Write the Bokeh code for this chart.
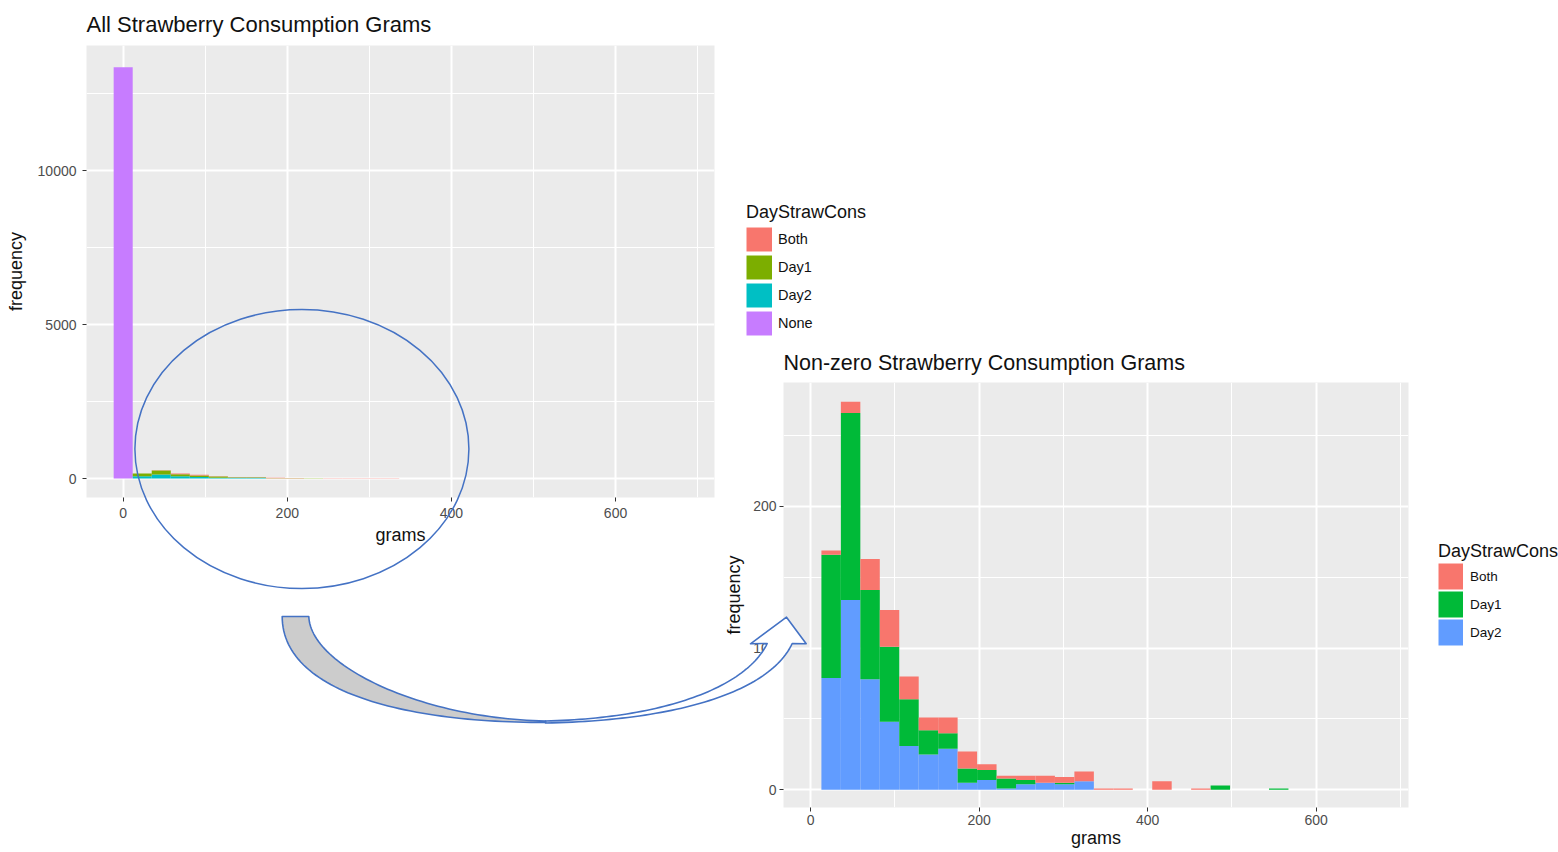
import numpy as np
from bokeh.plotting import figure
from bokeh.models import Range1d, FixedTicker, Legend, LegendItem, ColumnDataSource
from bokeh.embed import file_html
from bokeh.resources import INLINE

FONT = "Liberation Sans"

# ---------------- data ----------------
# Non-zero consumption histogram (right chart): 23.1 g bins starting at 12.7 g
nz_bin_start = 12.7
nz_bin_width = 23.1
nz_both = [3, 8, 22, 26, 16, 9, 11, 12, 4, 2, 3, 5, 4, 7, 1, 1, 0, 6, 0, 1, 0, 0, 0, 0]
nz_day1 = [87, 132, 63, 53, 33, 17, 11, 10, 7, 7, 3, 0, 1, 0, 0, 0, 0, 0, 0, 0, 3, 0, 0, 1]
nz_day2 = [79, 134, 78, 48, 31, 25, 29, 5, 7, 1, 4, 5, 4, 6, 0, 0, 0, 0, 0, 0, 0, 0, 0, 0]

# All consumption histogram (left chart): 23.2 g bins centred on 0, 23.2, 46.4, ...
all_bin_width = 23.2
all_none = [13360, 0, 0, 0, 0, 0, 0, 0, 0, 0, 0, 0, 0, 0, 0, 0, 0, 0, 0, 0, 0, 0, 0, 0, 0]
all_both = [0, 3, 8, 22, 26, 16, 9, 11, 12, 4, 2, 3, 5, 4, 7, 1, 1, 0, 6, 0, 1, 0, 0, 0, 0]
all_day1 = [0, 87, 132, 63, 53, 33, 17, 11, 10, 7, 7, 3, 0, 1, 0, 0, 0, 0, 0, 0, 0, 3, 0, 0, 1]
all_day2 = [0, 79, 134, 78, 48, 31, 25, 29, 5, 7, 1, 4, 5, 4, 6, 0, 0, 0, 0, 0, 0, 0, 0, 0, 0]

legend_title = "DayStrawCons"
groups_all = ["Both", "Day1", "Day2", "None"]
groups_nz = ["Both", "Day1", "Day2"]
colors_all = {"Both": "#F8766D", "Day1": "#7CAE00", "Day2": "#00BFC4", "None": "#C77CFF"}
colors_nz = {"Both": "#F8766D", "Day1": "#00BA38", "Day2": "#619CFF"}

x_ticks = [0, 200, 400, 600]
x_minor = [100, 300, 500, 700]
all_y_ticks = [0, 5000, 10000]
all_y_minor = [2500, 7500, 12500]
nz_y_ticks = [0, 100, 200]
nz_y_minor = [50, 150, 250]

# decorative call-out shapes (page pixel coordinates)
ellipse_center = (301.4, 448.5)
ellipse_size = (334, 279)
arrow_outer_left = [(281.7, 616), (281.7, 690), (400, 722), (545, 722)]
arrow_inner_left = [(308.3, 616), (310, 665), (420, 718), (545, 720.5)]
arrow_lower_right = [(545, 722.5), (680, 720), (770, 690), (791.7, 643)]
arrow_upper_right = [(545, 720.5), (660, 718), (745, 688), (766.7, 643)]
arrow_head = [(805.7, 643.3), (786, 616.7), (750, 643.3)]


def place(fig, x, y):
    fig.styles = {"position": "absolute", "left": f"{x}px", "top": f"{y}px"}


def style_chart(p, yt, ym, xstand, xlab_stand, ystand, ylab_stand, title_stand):
    p.background_fill_color = "#EBEBEB"
    p.border_fill_alpha = 0
    p.outline_line_color = None
    xt = FixedTicker(ticks=x_ticks, minor_ticks=x_minor)
    ytk = FixedTicker(ticks=yt, minor_ticks=ym)
    p.xaxis.ticker = xt
    p.yaxis.ticker = ytk
    p.xgrid.ticker = xt
    p.ygrid.ticker = ytk
    for ax in p.axis:
        ax.axis_line_color = None
        ax.major_tick_line_color = "#333333"
        ax.major_tick_line_width = 1
        ax.major_tick_in = 0
        ax.major_tick_out = 4
        ax.minor_tick_line_color = None
        ax.major_label_text_font = FONT
        ax.major_label_text_font_size = "14px"
        ax.major_label_text_color = "#4D4D4D"
        ax.axis_label_text_font = FONT
        ax.axis_label_text_font_size = "18px"
        ax.axis_label_text_font_style = "normal"
        ax.axis_label_text_color = "#111111"
    p.xaxis.major_label_standoff = xstand
    p.xaxis.axis_label_standoff = xlab_stand
    p.yaxis.major_label_standoff = ystand
    p.yaxis.axis_label_standoff = ylab_stand
    p.grid.grid_line_color = "white"
    p.grid.grid_line_width = 2
    p.grid.minor_grid_line_color = "white"
    p.grid.minor_grid_line_width = 1
    p.title.text_font = FONT
    p.title.text_font_style = "normal"
    p.title.text_color = "#111111"
    p.title.standoff = title_stand


def blank_figure(w, h):
    f = figure(width=w, height=h, x_range=Range1d(0, 1), y_range=Range1d(0, 1),
               output_backend="svg", toolbar_location=None, x_axis_type=None, y_axis_type=None,
               min_border=0, min_border_left=0, min_border_right=0, min_border_top=0, min_border_bottom=0)
    f.background_fill_alpha = 0
    f.border_fill_alpha = 0
    f.outline_line_color = None
    f.grid.visible = False
    return f


def legend_figure(groups, colors, w, h, loc, gw, pitch, key_h, title_stand, label_stand, label_size):
    # legend keys only: proxy renderers lie outside the visible range
    f = blank_figure(w, h)
    items = []
    for g in groups:
        r = f.line(x=[5, 6], y=[5, 5], line_color=colors[g], line_width=key_h, line_cap="butt")
        items.append(LegendItem(label=g, renderers=[r]))
    leg = Legend(items=items, location=loc, title=legend_title)
    leg.title_text_font = FONT
    leg.title_text_font_size = "18px"
    leg.title_text_font_style = "normal"
    leg.title_text_color = "#111111"
    leg.title_standoff = title_stand
    leg.label_text_font = FONT
    leg.label_text_font_size = label_size
    leg.label_text_color = "#111111"
    leg.label_standoff = label_stand
    leg.glyph_width = gw
    leg.glyph_height = pitch
    leg.label_height = pitch
    leg.spacing = 0
    leg.padding = 10
    leg.margin = 0
    leg.background_fill_alpha = 0
    leg.border_line_alpha = 0
    f.add_layout(leg)
    return f


# ---------------- left chart ----------------
src_all = ColumnDataSource(dict(
    x=[i * all_bin_width for i in range(len(all_none))],
    Both=all_both, Day1=all_day1, Day2=all_day2, None_=all_none,
))
L = figure(width=724, height=560, x_range=Range1d(-44.7, 720.6), y_range=Range1d(-614, 14066),
           output_backend="svg", toolbar_location=None,
           title="All Strawberry Consumption Grams",
           min_border_left=86, min_border_right=10, min_border_top=45, min_border_bottom=63,
           x_axis_label="grams", y_axis_label="frequency")
L.vbar_stack(["None_", "Day2", "Day1", "Both"], x="x", width=all_bin_width, source=src_all,
             fill_color=[colors_all["None"], colors_all["Day2"], colors_all["Day1"], colors_all["Both"]],
             line_color=None)
style_chart(L, all_y_ticks, all_y_minor, 6, 4, 6, 9, 17)
L.title.text_font_size = "22px"
place(L, 0, 0)

LL = legend_figure(groups_all, colors_all, 150, 170, (0, 8), 26, 28, 24, 2, 6, "14.5px")
place(LL, 736, 185)

# ---------------- right chart ----------------
src_nz = ColumnDataSource(dict(
    x=[nz_bin_start + (i + 0.5) * nz_bin_width for i in range(len(nz_both))],
    Both=nz_both, Day1=nz_day1, Day2=nz_day2,
))
R = figure(width=718, height=522, x_range=Range1d(-32.3, 709.6), y_range=Range1d(-12.5, 287.5),
           output_backend="svg", toolbar_location=None,
           title="Non-zero Strawberry Consumption Grams",
           min_border_left=83, min_border_right=10, min_border_top=52, min_border_bottom=45,
           x_axis_label="grams", y_axis_label="frequency")
R.vbar_stack(["Day2", "Day1", "Both"], x="x", width=nz_bin_width, source=src_nz,
             fill_color=[colors_nz["Day2"], colors_nz["Day1"], colors_nz["Both"]],
             line_color=None)
style_chart(R, nz_y_ticks, nz_y_minor, 3, 0, 3, 6, 16)
R.title.text_font_size = "21.5px"
place(R, 700, 330)

RL = legend_figure(groups_nz, colors_nz, 130, 145, (0, 9), 25, 28, 26, -3, 7, "13.5px")
place(RL, 1428, 520)

# ---------------- overlay: ellipse and curved arrow ----------------
O = figure(width=1558, height=852, x_range=Range1d(0, 1558), y_range=Range1d(852, 0),
           output_backend="svg", toolbar_location=None, x_axis_type=None, y_axis_type=None,
           min_border=0, min_border_left=0, min_border_right=0, min_border_top=0, min_border_bottom=0)
O.background_fill_alpha = 0
O.border_fill_alpha = 0
O.outline_line_color = None
O.grid.visible = False


def bez(pts, n=60):
    t = np.linspace(0, 1, n)[:, None]
    p0, p1, p2, p3 = [np.array(q, dtype=float) for q in pts]
    return (1 - t) ** 3 * p0 + 3 * (1 - t) ** 2 * t * p1 + 3 * (1 - t) * t ** 2 * p2 + t ** 3 * p3


gray = np.vstack([bez(arrow_outer_left), bez(arrow_inner_left)[::-1]])
white = np.vstack([bez(arrow_lower_right), np.array(arrow_head), bez(arrow_upper_right)[::-1]])
O.patches(xs=[list(white[:, 0]), list(gray[:, 0])], ys=[list(white[:, 1]), list(gray[:, 1])],
          fill_color=["#FFFFFF", "#CCCCCC"], line_color="#4472C4", line_width=1.6, line_join="round")
O.ellipse(x=[ellipse_center[0]], y=[ellipse_center[1]], width=[ellipse_size[0]], height=[ellipse_size[1]],
          fill_color=None, line_color="#4472C4", line_width=1.5)
place(O, 0, 0)

p = [L, R, LL, RL, O]
open("out.html", "w").write(file_html(p, INLINE))
